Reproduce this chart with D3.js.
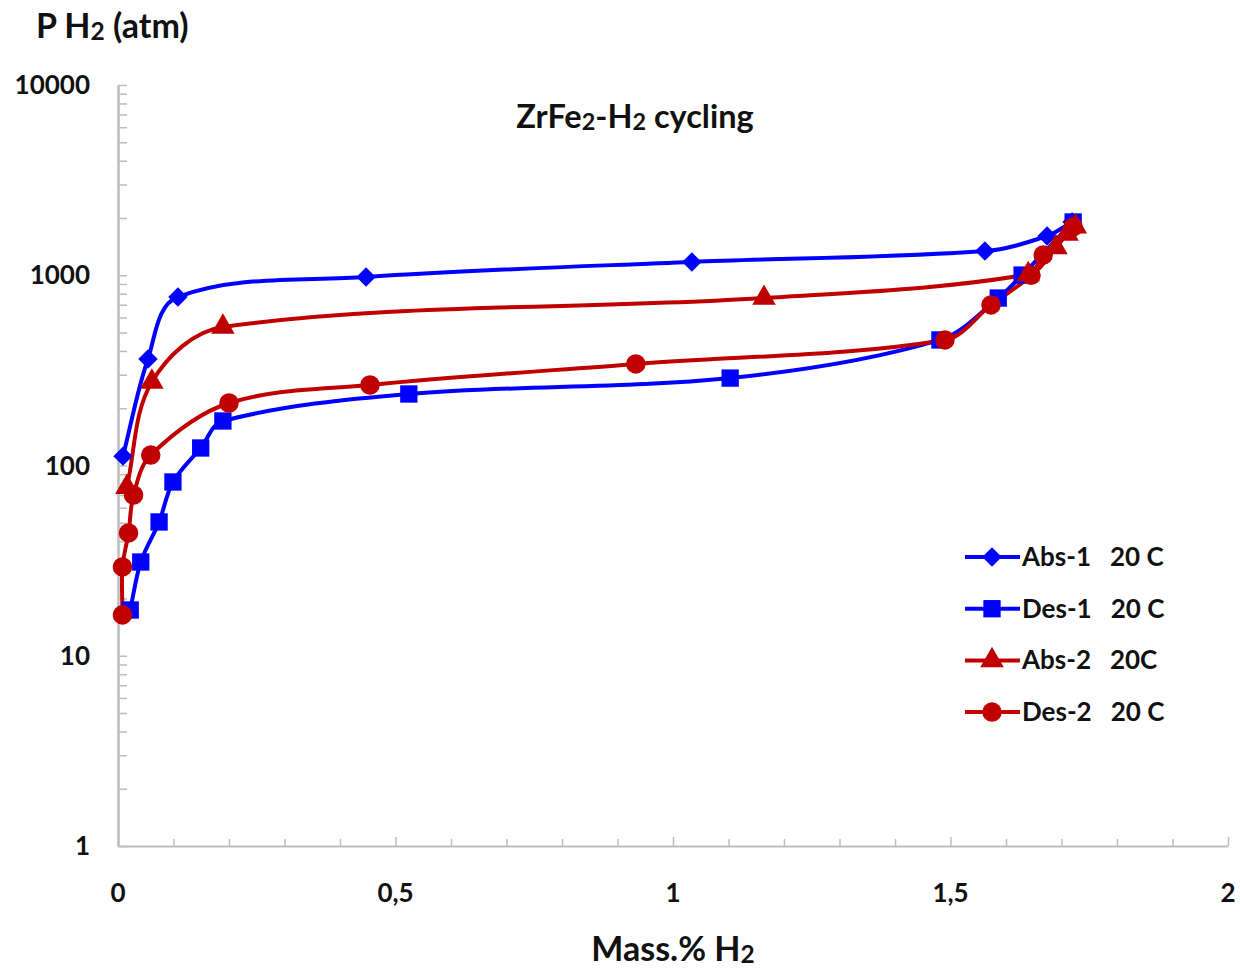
<!DOCTYPE html>
<html>
<head>
<meta charset="utf-8">
<script src="https://cdn.jsdelivr.net/npm/d3@7"></script>
<style>
  html, body { margin: 0; padding: 0; background: #fff; }
  svg { display: block; font-family: Lato, "Open Sans", sans-serif; }
</style>
</head>
<body>
<svg id="chart" width="1240" height="970"></svg>
<script>
// ---- data ----
const abs1X = [0.009, 0.054, 0.108, 0.447, 1.034, 1.562, 1.674, 1.719];
const abs1Y = [112, 363, 769, 979, 1175, 1340, 1608, 1905];
const des1X = [0.022, 0.041, 0.074, 0.099, 0.149, 0.189, 0.524, 1.103, 1.481, 1.586, 1.629, 1.721];
const des1Y = [17.4, 31.1, 50.5, 81.9, 123.6, 171.4, 237.6, 288, 457, 759, 1002, 1905];
const abs2X = [0.016, 0.061, 0.189, 1.164, 1.64, 1.69, 1.71, 1.725];
const abs2Y = [77, 275, 535, 759, 1010, 1400, 1650, 1800];
const des2X = [0.008, 0.008, 0.019, 0.028, 0.059, 0.200, 0.454, 0.933, 1.490, 1.573, 1.645, 1.667, 1.721];
const des2Y = [16.4, 29.3, 44.2, 70, 113.5, 213, 265, 342, 457, 698, 1000, 1277, 1794];

const seriesNames = ["Abs-1   20 C", "Des-1   20 C", "Abs-2   20C", "Des-2   20 C"];
const seriesColors = ["#0000ff", "#0000ff", "#c00000", "#c00000"];
const seriesMarkers = ["diamond", "square", "triangle", "circle"];

const xTickValues = [0, 0.5, 1, 1.5, 2];
const xTickLabels = ["0", "0,5", "1", "1,5", "2"];
const yTickValues = [1, 10, 100, 1000, 10000];
const yTickLabels = ["1", "10", "100", "1000", "10000"];

const titleText = ["ZrFe", "2", "-H", "2", " cycling"];
const yTitle = ["P H", "2", " (atm)"];
const xTitle = ["Mass.% H", "2"];

// ---- layout ----
const svg = d3.select("#chart");
const x = d3.scaleLinear().domain([0, 2]).range([118, 1228]);
const y = d3.scaleLog().domain([1, 10000]).range([846, 85]);
const axisColor = "#bdbdbd";

// x axis
const xAxis = d3.axisBottom(x)
  .tickValues(d3.range(0, 21).map(i => i / 10))
  .tickSize(0).tickFormat("");
const gx = svg.append("g").attr("transform", `translate(0,${y(1)})`).call(xAxis);
gx.select(".domain").attr("stroke", axisColor).attr("stroke-width", 2);
gx.selectAll(".tick line").attr("y2", d => (Math.abs(d * 2 - Math.round(d * 2)) < 1e-6 ? -9 : -7))
  .attr("stroke", axisColor).attr("stroke-width", 1.5);

svg.append("g").selectAll("text").data(xTickValues).join("text")
  .attr("x", d => x(d)).attr("y", 902)
  .attr("text-anchor", "middle").attr("font-size", 26).attr("font-weight", 700)
  .attr("fill", "#111").text((d, i) => xTickLabels[i]);

// y axis
const yMinor = [];
for (let e = 0; e < 4; e++) for (let m = 1; m <= 10; m++) yMinor.push(m * Math.pow(10, e));
const yAxis = d3.axisLeft(y).tickValues(Array.from(new Set(yMinor))).tickSize(0).tickFormat("");
const gy = svg.append("g").attr("transform", `translate(${x(0)},0)`).call(yAxis);
gy.select(".domain").attr("stroke", axisColor).attr("stroke-width", 2.5);
gy.selectAll(".tick line").attr("x2", 9).attr("stroke", axisColor).attr("stroke-width", 1.5);

svg.append("g").selectAll("text").data(yTickValues).join("text")
  .attr("x", 90).attr("y", d => y(d) + 9)
  .attr("text-anchor", "end").attr("font-size", 26).attr("font-weight", 700)
  .attr("fill", "#111").text((d, i) => yTickLabels[i]);

// helper for text with subscripts
function subText(sel, parts, size) {
  parts.forEach((p, i) => {
    const isSub = (p === "2");
    sel.append("tspan")
      .attr("font-size", isSub ? size * 0.72 : size)
      .attr("dy", isSub ? 2 : (i > 0 && parts[i - 1] === "2" ? -2 : 0))
      .text(p);
  });
}

const t = svg.append("text").attr("x", 635).attr("y", 128).attr("text-anchor", "middle")
  .attr("font-weight", 700).attr("fill", "#111");
subText(t, titleText, 32.5);

const yt = svg.append("text").attr("x", 36).attr("y", 38).attr("text-anchor", "start")
  .attr("font-weight", 700).attr("fill", "#111");
subText(yt, yTitle, 34);

const xt = svg.append("text").attr("x", 673).attr("y", 961).attr("text-anchor", "middle")
  .attr("font-weight", 700).attr("fill", "#111");
subText(xt, xTitle, 34);

// ---- smooth curve (spreadsheet-like smoothing, controls scaled by segment length) ----
function SmoothCurve(context) { this._context = context; }
SmoothCurve.prototype = {
  areaStart() {}, areaEnd() {},
  lineStart() { this._pts = []; },
  point(px, py) { this._pts.push([+px, +py]); },
  lineEnd() {
    const p = this._pts, n = p.length, c = this._context, k = 0.33;
    if (!n) return;
    const unit = (a, b) => {
      const dx = b[0] - a[0], dy = b[1] - a[1], l = Math.hypot(dx, dy);
      return l ? [dx / l, dy / l] : [0, 0];
    };
    const tan = p.map((pt, i) => {
      const a = p[Math.max(0, i - 1)], b = p[Math.min(n - 1, i + 1)];
      return unit(a, b);
    });
    c.moveTo(p[0][0], p[0][1]);
    for (let i = 0; i < n - 1; i++) {
      const a = p[i], b = p[i + 1];
      const L = Math.hypot(b[0] - a[0], b[1] - a[1]) * k;
      c.bezierCurveTo(a[0] + tan[i][0] * L, a[1] + tan[i][1] * L,
                      b[0] - tan[i + 1][0] * L, b[1] - tan[i + 1][1] * L,
                      b[0], b[1]);
    }
  }
};
const smooth = context => new SmoothCurve(context);

// ---- series ----
const series = [
  { xs: abs1X, ys: abs1Y },
  { xs: des1X, ys: des1Y },
  { xs: abs2X, ys: abs2Y },
  { xs: des2X, ys: des2Y }
].map((s, i) => ({
  name: seriesNames[i], color: seriesColors[i], marker: seriesMarkers[i],
  pts: s.xs.map((v, j) => [v, s.ys[j]])
}));

const line = d3.line().x(d => x(d[0])).y(d => y(d[1])).curve(smooth);

const symbolOf = {
  diamond: d3.symbol().type(d3.symbolDiamond2).size(240),
  square: d3.symbol().type(d3.symbolSquare).size(300),
  triangle: d3.symbol().type(d3.symbolTriangle).size(240),
  circle: d3.symbol().type(d3.symbolCircle).size(300)
};

series.forEach(s => {
  svg.append("path").datum(s.pts).attr("d", line)
    .attr("fill", "none").attr("stroke", s.color).attr("stroke-width", 4)
    .attr("stroke-linejoin", "round");
});
series.forEach(s => {
  svg.append("g").selectAll("path").data(s.pts).join("path")
    .attr("transform", d => `translate(${x(d[0])},${y(d[1])})`)
    .attr("d", symbolOf[s.marker]()).attr("fill", s.color);
});

// ---- legend ----
const lg = svg.append("g");
series.forEach((s, i) => {
  const cy = 557 + i * 51.7;
  lg.append("line").attr("x1", 965).attr("x2", 1020).attr("y1", cy).attr("y2", cy)
    .attr("stroke", s.color).attr("stroke-width", 4);
  lg.append("path").attr("transform", `translate(992,${cy})`)
    .attr("d", symbolOf[s.marker]()).attr("fill", s.color);
  lg.append("text").attr("x", 1022).attr("y", cy + 9).attr("font-size", 26)
    .attr("font-weight", 700).attr("fill", "#111").attr("xml:space", "preserve")
    .style("white-space", "pre").text(s.name);
});
</script>
</body>
</html>
